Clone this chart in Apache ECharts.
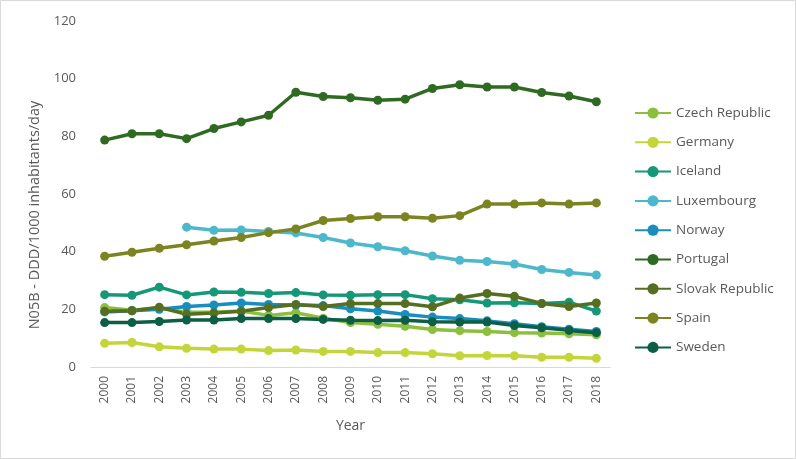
<!DOCTYPE html>
<html>
<head>
<meta charset="utf-8">
<script src="https://cdn.jsdelivr.net/npm/echarts@6/dist/echarts.min.js"></script>
<style>html,body{margin:0;padding:0;background:#fff}#c{width:796px;height:459px}</style>
</head>
<body>
<div id="c"></div>
<script>
const years = ['2000','2001','2002','2003','2004','2005','2006','2007','2008','2009','2010','2011','2012','2013','2014','2015','2016','2017','2018'];
const yTicks = [0, 20, 40, 60, 80, 100, 120];
const czech    = [20.6,19.7,20.5,19.0,19.0,19.4,17.9,18.8,16.9,15.4,14.8,14.1,13.0,12.6,12.3,11.9,11.8,11.5,11.2];
const germany  = [8.2,8.5,7.0,6.5,6.2,6.2,5.7,5.9,5.4,5.4,5.0,5.0,4.6,3.9,4.0,3.9,3.4,3.4,3.0];
const iceland  = [25.1,24.9,27.7,25.0,26.0,25.9,25.5,25.8,25.0,24.9,25.1,25.1,23.7,23.3,22.2,22.3,22.0,22.5,19.4];
const luxembourg = [null,null,null,48.5,47.4,47.5,47.0,46.5,44.9,43.0,41.7,40.3,38.5,37.0,36.6,35.7,33.8,32.8,31.9];
const norway   = [19.1,19.5,20.0,21.0,21.5,22.2,21.7,21.5,21.3,20.2,19.4,18.2,17.3,16.8,16.0,15.0,14.0,13.1,12.3];
const portugal = [78.7,80.9,80.9,79.2,82.7,85.0,87.3,95.3,93.8,93.4,92.5,92.9,96.6,97.9,97.1,97.1,95.2,94.0,92.0];
const slovak   = [19.3,19.5,20.7,18.3,18.7,19.3,20.6,21.7,21.0,22.0,22.0,22.0,20.9,23.9,25.5,24.5,22.0,21.0,22.2];
const spain    = [38.4,39.8,41.2,42.4,43.7,44.9,46.6,47.9,50.8,51.5,52.1,52.1,51.6,52.5,56.5,56.5,56.9,56.5,56.9];
const sweden   = [15.4,15.4,15.8,16.3,16.3,16.8,16.8,16.8,16.5,16.2,16.1,16.2,15.7,15.6,15.6,14.4,13.6,12.7,11.9];

const seriesDefs = [
  ['Czech Republic', czech, '#8DBF3F'],
  ['Germany', germany, '#C4D53A'],
  ['Iceland', iceland, '#159878'],
  ['Luxembourg', luxembourg, '#4DB8CC'],
  ['Norway', norway, '#1A8DBF'],
  ['Portugal', portugal, '#2F6A22'],
  ['Slovak Republic', slovak, '#566E22'],
  ['Spain', spain, '#7B8421'],
  ['Sweden', sweden, '#0C5E46']
];
const font = '"Open Sans", "Noto Sans", sans-serif';
const chart = echarts.init(document.getElementById('c'));
chart.setOption({
  animation: false,
  textStyle: {fontFamily: font},
  graphic: [{type:'rect', shape:{x:0.5,y:0.5,width:795,height:458}, style:{fill:null, stroke:'#d9d9d9', lineWidth:1}, silent:true}],
  grid: {left: 91, right: 186, top: 21, bottom: 92, containLabel: false},
  legend: {
    orient: 'vertical', left: 629, top: 101, itemGap: 15.3, itemWidth: 36, itemHeight: 14,
    textStyle: {color: '#595959', fontSize: 13.5, fontFamily: font},
    data: seriesDefs.map(s => s[0])
  },
  xAxis: {
    type: 'category', data: years, boundaryGap: true,
    name: 'Year', nameLocation: 'middle', nameGap: 52,
    nameTextStyle: {color: '#595959', fontSize: 14, fontFamily: font},
    axisLine: {lineStyle: {color: '#d9d9d9', width: 1}},
    axisTick: {show: false},
    axisLabel: {rotate: 90, color: '#595959', fontSize: 12, margin: 9, interval: 0, fontFamily: font}
  },
  yAxis: {
    type: 'value', min: 0, max: 120, interval: 20,
    name: 'N05B - DDD/1000 inhabitants/day', nameLocation: 'middle', nameGap: 46,
    nameTextStyle: {color: '#595959', fontSize: 14.5, fontFamily: font, padding: [0, 42, 0, 0]},
    axisLine: {show: false}, axisTick: {show: false}, splitLine: {show: false},
    axisLabel: {color: '#595959', fontSize: 13, margin: 15, fontFamily: font,
      formatter: v => yTicks.includes(v) ? String(v) : ''}
  },
  series: seriesDefs.map(([name, data, color]) => ({
    name, type: 'line', data, color,
    symbol: 'circle', symbolSize: 9, showSymbol: true, connectNulls: false,
    lineStyle: {width: 3.5, color},
    itemStyle: {color}
  }))
});
</script>
</body>
</html>
